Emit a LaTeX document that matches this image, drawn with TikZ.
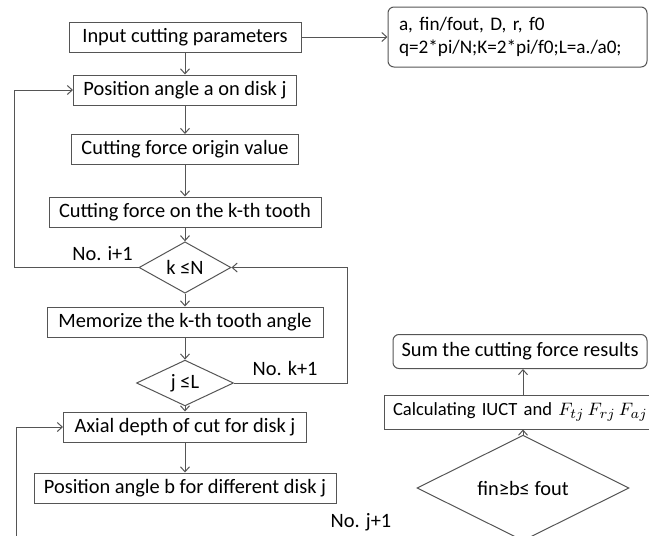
\documentclass[tikz,border=0pt]{standalone}
\usepackage{fontspec}
\setmainfont{Carlito}
\usepackage{tikz}
\usetikzlibrary{shapes.geometric,arrows.meta,positioning,calc}
\definecolor{linegray}{RGB}{85,85,85}

\begin{document}
\begin{tikzpicture}[auto, font=\fontsize{10.2}{12}\selectfont,
    block/.style={rectangle, draw=linegray, line width=0.5pt, text centered, minimum height=15pt, inner sep=2pt},
    rblock/.style={block, rounded corners=3pt},
    decision/.style={diamond, draw=linegray, line width=0.5pt, inner sep=0pt},
    arrow/.style={-{Straight Barb[length=2.5pt,width=4.5pt]}, draw=linegray, line width=0.5pt},
    line/.style={draw=linegray, line width=0.5pt}]

    \useasboundingbox (0,0) rectangle (324.5pt,-268pt);
    \clip (0,0) rectangle (324.5pt,-268pt);

    % main column
    \node[block, minimum width=116pt] (input) at (92.5pt,-18.5pt) {Input cutting parameters};
    \node[block, node distance=26.5pt, below of=input, minimum width=111.5pt] (posa) {Position angle a on disk j};
    \node[block, node distance=29.75pt, below of=posa, minimum width=113.5pt] (origin) {Cutting force origin value};
    \node[block, node distance=31.25pt, below of=origin, minimum width=136pt] (kth) {Cutting force on the k-th tooth};
    \node[decision, node distance=27.75pt, below of=kth, minimum width=46pt, minimum height=14.5pt] (kN) {k ≤N};
    \node[block, node distance=27.25pt, below of=kN, minimum width=138pt] (memo) {Memorize the k-th tooth angle};
    \node[decision, node distance=30.5pt, below of=memo, minimum width=48.5pt, minimum height=13.5pt] (jL) {j ≤L};
    \node[block, node distance=22pt, below of=jL, minimum width=121.5pt] (axial) {Axial depth of cut for disk j};
    \node[block, node distance=30.5pt, below of=axial, minimum width=151pt] (posb) {Position angle b for different disk j};

    % parameter list
    \node[rblock, node distance=166.25pt, right of=input, minimum width=129.5pt, minimum height=30pt,
          text width=118.5pt, align=left, inner xsep=5.5pt, font=\fontsize{9.6}{11.5}\selectfont] (params)
          {a, fin/fout, D, r, f0\\q=2*pi/N;K=2*pi/f0;L=a./a0;};

    % right column
    \node[decision, minimum width=106pt, minimum height=30.5pt] (fin) at (261.5pt,-244pt) {fin≥b≤ fout};
    \node[block, node distance=38pt, above of=fin, minimum height=17pt, xshift=5pt,
          text width=140pt, align=left, inner xsep=4.5pt, font=\fontsize{9.3}{11}\selectfont] (calc)
          {Calculating IUCT and $F_{tj}\,F_{rj}\,F_{aj}$};
    \node[rblock, node distance=30.25pt, above of=calc, minimum width=127pt, minimum height=17pt, xshift=-6.5pt] (sum)
          {Sum the cutting force results};

    \node (noj) at (180.5pt,-261pt) {No. j+1};
    \coordinate (loopin) at (8pt,-280pt);

    \draw[arrow] (input) -- (params);
    \draw[arrow] (input) -- (posa);
    \draw[arrow] (posa) -- (origin);
    \draw[arrow] (origin) -- (kth);
    \draw[arrow] (kth) -- (kN);
    \draw[arrow] (kN) -- (memo);
    \draw[arrow] (memo) -- (jL);
    \draw[arrow] (jL) -- (axial);
    \draw[arrow] (axial) -- (posb);

    % loops
    \draw[arrow] (kN.west) -- node[pos=0.29, above] (noi) {No. i+1} ++(-62pt,0) |- (posa.west);
    \draw[arrow] (jL.east) -- node[pos=0.45, above] (nok) {No. k+1} ++(56.75pt,0) |- (kN.east);
    \draw[arrow] (loopin) |- (axial.west);

    \draw[line] (fin.south) -- (fin.south |- loopin);
    \draw[arrow] (fin.north) -- (fin.north |- calc.south);
    \draw[arrow] (fin.north |- calc.north) -- (fin.north |- sum.south);
\end{tikzpicture}
\end{document}
